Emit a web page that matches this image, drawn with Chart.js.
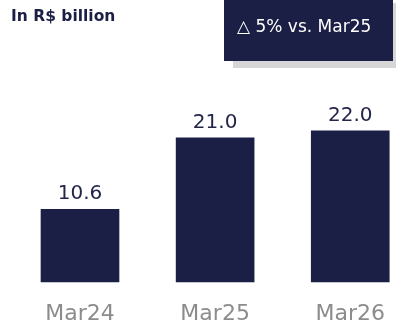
<!DOCTYPE html>
<html>
<head>
<meta charset="utf-8">
<script src="https://cdn.jsdelivr.net/npm/chart.js@4/dist/chart.umd.min.js"></script>
<style>
  html, body { margin: 0; padding: 0; background: #fff; }
  #wrap { position: relative; width: 396px; height: 329px; overflow: hidden; }
  #chart { position: absolute; left: 0; top: 0; }
  .titel {
    position: absolute; left: 11px; top: 7px;
    font: bold 15.5px "DejaVu Sans", sans-serif; color: #1b1f45;
  }
  .badge {
    position: absolute; left: 224px; top: -4px; width: 169px; height: 65px;
    background: #1b1f45; color: #fff;
    box-shadow: 9px 7px 0 #d6d6d6;
    font: 17px "DejaVu Sans", sans-serif;
    box-sizing: border-box; padding: 20px 0 0 13px; white-space: nowrap;
  }
</style>
</head>
<body>
<div id="wrap">
  <canvas id="chart" width="396" height="329"></canvas>
  <div class="titel">In R$ billion</div>
  <div class="badge">△ 5% vs. Mar25</div>
</div>
<script>
// Gegevens
const perioden = ['Mar24', 'Mar25', 'Mar26'];
const waarden = [10.6, 21.0, 22.0];
const labels = ['10.6', '21.0', '22.0'];

const navy = '#1b1f45';

// Waarden boven de staven
const waardeLabels = {
  id: 'waardeLabels',
  afterDatasetsDraw(chart) {
    const ctx = chart.ctx;
    const meta = chart.getDatasetMeta(0);
    ctx.save();
    ctx.font = '20px "DejaVu Sans", sans-serif';
    ctx.fillStyle = '#23264a';
    ctx.textAlign = 'center';
    ctx.textBaseline = 'alphabetic';
    meta.data.forEach((bar, i) => {
      ctx.fillText(labels[i], bar.x, bar.y - 10);
    });
    ctx.restore();
  }
};

const ctx = document.getElementById('chart').getContext('2d');
new Chart(ctx, {
  type: 'bar',
  data: {
    labels: perioden,
    datasets: [{
      data: waarden,
      backgroundColor: navy,
      barThickness: 78,
      clip: false
    }]
  },
  options: {
    responsive: false,
    animation: false,
    layout: { padding: { left: 80, right: 34, top: 76, bottom: 0 } },
    plugins: { legend: { display: false }, tooltip: { enabled: false } },
    scales: {
      x: {
        offset: false,
        grid: { display: false },
        border: { display: false },
        afterFit: (scale) => { scale.height = 47; },
        ticks: {
          padding: 11,
          maxRotation: 0,
          color: '#8c8c8c',
          font: { family: '"DejaVu Sans", sans-serif', size: 22 }
        }
      },
      y: {
        display: false,
        min: 0,
        max: 30
      }
    }
  },
  plugins: [waardeLabels]
});
</script>
</body>
</html>
